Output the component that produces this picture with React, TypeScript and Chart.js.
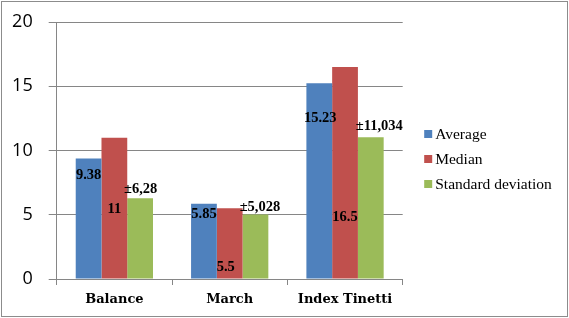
import React, { useEffect, useRef } from "react";
import { Chart, registerables } from "chart.js";

Chart.register(...registerables);

const categories = ["Balance", "March", "Index Tinetti"];
const seriesNames = ["Average", "Median", "Standard deviation"];
const averageValues = [9.38, 5.85, 15.23];
const medianValues = [11, 5.5, 16.5];
const stdValues = [6.28, 5.028, 11.034];
const averageLabels = ["9.38", "5.85", "15.23"];
const medianLabels = ["11", "5.5", "16.5"];
const stdLabels = ["±6,28", "±5,028", "±11,034"];
const yMin = 0;
const yMax = 20;
const yStep = 5;

const colors = ["#4F81BD", "#C0504D", "#9BBB59"];
const gridColor = "#868686";
const serif = "'Liberation Serif', 'Times New Roman', serif";
const slab = "'DejaVu Serif', serif";
// label offsets in px relative to the bar top [dx, dy]
const labelOffsets = [
  [[0, 16.5], [0, 10.5], [1, 35]],
  [[0, 72], [-4, 59], [0, 150]],
  [[0.5, -9], [4.5, -7], [8.5, -10.5]],
];
const allLabels = [averageLabels, medianLabels, stdLabels];

const labelsPlugin = {
  id: "barLabels",
  afterDatasetsDraw(chart: any) {
    const ctx = chart.ctx;
    ctx.save();
    ctx.font = `bold 14.5px ${serif}`;
    ctx.fillStyle = "#000";
    ctx.textAlign = "center";
    ctx.textBaseline = "middle";
    chart.data.datasets.forEach((_: any, i: number) => {
      const meta = chart.getDatasetMeta(i);
      meta.data.forEach((bar: any, j: number) => {
        const [dx, dy] = labelOffsets[i][j];
        ctx.fillText(allLabels[i][j], bar.x + dx, bar.y + dy);
      });
    });
    ctx.restore();
  },
};

const legendPlugin = {
  id: "customLegend",
  afterDraw(chart: any) {
    const ctx = chart.ctx;
    const { right } = chart.chartArea;
    ctx.save();
    ctx.font = `15.5px ${serif}`;
    ctx.textBaseline = "middle";
    ctx.textAlign = "left";
    seriesNames.forEach((name, i) => {
      const cy = 134 + i * 25;
      const bx = right + 21.5;
      ctx.fillStyle = colors[i];
      ctx.fillRect(bx, cy - 4, 8, 8);
      ctx.fillStyle = "#000";
      ctx.fillText(name, bx + 11, cy + 1);
    });
    ctx.restore();
  },
};

const borderPlugin = {
  id: "outerBorder",
  afterDraw(chart: any) {
    const ctx = chart.ctx;
    ctx.save();
    ctx.strokeStyle = "#8c8c8c";
    ctx.lineWidth = 1;
    ctx.strokeRect(1.5, 1.5, chart.width - 3, chart.height - 3);
    ctx.restore();
  },
};

export default function App() {
  const ref = useRef<HTMLCanvasElement | null>(null);
  useEffect(() => {
    if (!ref.current) return;
    const chart = new Chart(ref.current, {
      type: "bar",
      data: {
        labels: categories,
        datasets: [averageValues, medianValues, stdValues].map((vals, i) => ({
          label: seriesNames[i],
          data: vals,
          backgroundColor: colors[i],
          borderWidth: 0,
          categoryPercentage: 0.67,
          barPercentage: 1,
        })),
      },
      plugins: [labelsPlugin, legendPlugin, borderPlugin],
      options: {
        responsive: false,
        animation: false,
        devicePixelRatio: 1,
        layout: { padding: { top: 22, right: 166.3, bottom: 0, left: 0 } },
        plugins: { legend: { display: false }, tooltip: { enabled: false } },
        scales: {
          x: {
            grid: {
              display: true,
              drawOnChartArea: false,
              drawTicks: true,
              tickLength: 6,
              color: gridColor,
              offset: true,
            },
            border: { display: true, color: gridColor },
            ticks: {
              color: "#000",
              font: { family: slab, size: 13, weight: "bold" },
              padding: 7,
              maxRotation: 0,
            },
            afterFit(scale: any) {
              scale.height = 39;
            },
          },
          y: {
            min: yMin,
            max: yMax,
            ticks: {
              stepSize: yStep,
              color: "#000",
              font: { family: "'Open Sans', sans-serif", size: 18 },
              padding: 16,
            },
            grid: { color: gridColor, tickLength: 8 },
            border: { display: true, color: gridColor },
            afterFit(scale: any) {
              scale.width = 56.7;
              scale.paddingTop = 0;
              scale.paddingBottom = 0;
            },
          },
        },
      },
    } as any);
    return () => chart.destroy();
  }, []);
  return (
    <div style={{ position: "absolute", left: 0, top: 0, width: 569, height: 318, background: "#fff" }}>
      <canvas ref={ref} width={569} height={318} style={{ display: "block", width: 569, height: 318 }} />
    </div>
  );
}
